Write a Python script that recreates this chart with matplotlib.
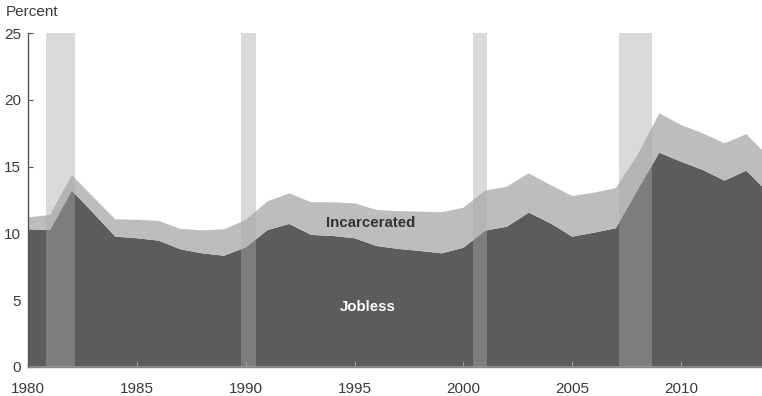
import matplotlib
matplotlib.use("Agg")
import matplotlib.pyplot as plt
from matplotlib import font_manager as fm
import numpy as np

# narrow sans if available, otherwise fall back
names = {f.name for f in fm.fontManager.ttflist}
fam = [n for n in ["Liberation Sans Narrow", "DejaVu Sans Condensed", "Liberation Sans", "DejaVu Sans"] if n in names]
plt.rcParams["font.family"] = fam

years = np.arange(1980, 2015)
jobless = [10.3, 10.25, 13.2, 11.5, 9.75, 9.63, 9.45, 8.8, 8.5, 8.32,
           8.95, 10.25, 10.7, 9.88, 9.8, 9.63, 9.05, 8.83, 8.68, 8.5,
           8.92, 10.2, 10.5, 11.55, 10.75, 9.75, 10.05, 10.38, 13.25, 16.05,
           15.37, 14.75, 13.95, 14.7, 13.05]
total = [11.2, 11.37, 14.37, 12.7, 11.05, 11.02, 10.93, 10.33, 10.23, 10.3,
         11.0, 12.4, 13.0, 12.33, 12.33, 12.25, 11.75, 11.67, 11.62, 11.58,
         11.92, 13.2, 13.5, 14.5, 13.62, 12.8, 13.05, 13.38, 15.87, 19.0,
         18.12, 17.5, 16.75, 17.43, 15.8]
incarcerated = np.array(total) - np.array(jobless)

recessions = [(1980.8, 1982.13), (1989.76, 1990.46), (2000.42, 2001.06), (2007.15, 2008.65)]

dark = "#5c5c5e"
light = "#bcbdbf"
txt = "#3a3a3a"

fig = plt.figure(figsize=(7.62, 3.96), dpi=100)
ax = fig.add_axes([0.0371, 0.074, 0.9629, 0.842])

ax.stackplot(years, jobless, incarcerated, colors=[dark, light], linewidth=0)
for a, b in recessions:
    ax.axvspan(a, b, color="#a8a9ab", alpha=0.44, lw=0, zorder=3)

ax.set_xlim(1980, 2013.72)
ax.set_ylim(0, 25)
ax.set_xticks(range(1980, 2011, 5))
ax.set_yticks(range(0, 26, 5))

for s in ["top", "right"]:
    ax.spines[s].set_visible(False)
ax.spines["left"].set_color("#555555")
ax.spines["left"].set_linewidth(1.0)
ax.spines["bottom"].set_color("#888888")
ax.spines["bottom"].set_linewidth(1.0)
ax.spines["left"].set_zorder(5)
ax.spines["bottom"].set_zorder(5)

ax.tick_params(axis="y", direction="in", length=3.5, width=0.8, color="#555555",
               labelsize=11, labelcolor=txt, pad=5)
ax.tick_params(axis="x", direction="in", length=4, width=0.8, color="#9a9a9a",
               labelsize=11, labelcolor=txt, pad=11)
ax.set_axisbelow(False)
for t in ax.xaxis.get_major_ticks():
    t.tick1line.set_zorder(6)

ax.text(1995.75, 10.75, "Incarcerated", ha="center", va="center",
        fontsize=10.8, fontweight="bold", color="#333333", zorder=4)
ax.text(1995.6, 4.5, "Jobless", ha="center", va="center",
        fontsize=10.8, fontweight="bold", color="white", zorder=4)

fig.text(6 / 762, 1 - 12 / 396, "Percent", ha="left", va="center",
         fontsize=11, color=txt)

fig.savefig("out.png", dpi=100)
